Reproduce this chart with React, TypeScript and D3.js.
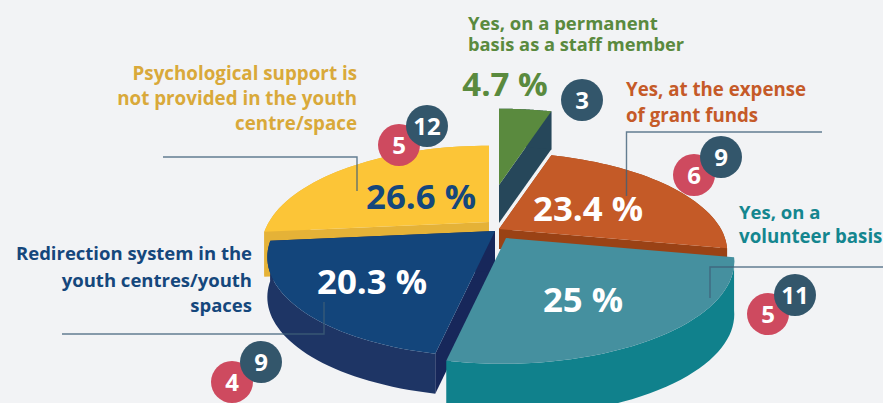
import React from "react";
import * as d3 from "d3";

const sliceNames = ["Staff", "Grant", "Volunteer", "Redirection", "Psychological"];
const sliceValues = [4.7, 23.4, 25, 20.3, 26.6];
const valueLabels = ["4.7 %", "23.4 %", "25 %", "20.3 %", "26.6 %"];
const topColors = ["#5A8A3E", "#C45A27", "#45909F", "#13457B", "#FCC537"];
const wallColors = ["#26475A", "#9A4215", "#10818C", "#1E3565", "#E5B237"];
const faceColors = ["#26475A", "#9A4215", "#10818C", "#17275A", "#E5B237"];
const apexX = [499, 499, 506, 495, 489];
const apexY = [185, 229, 238, 231, 222];
const depths = [38, 20, 53, 40, 45];
const paintOrder = [4, 0, 1, 3, 2];
const redCounts = [null, 6, 5, 4, 5];
const darkCounts = [3, 9, 11, 9, 12];

const W = 883, H = 403;
const RX_RIGHT = 222, RX_LEFT = 220, RY = 95, K = 0.245, SHEAR = 0.03;

const project = (t: number): [number, number] => {
  const s = Math.sin(t), c = -Math.cos(t);
  const d = 1 - K * c;
  const y = (RY * c) / d;
  const rx = s > 0 ? RX_RIGHT : RX_LEFT;
  return [(rx * s) / d - SHEAR * Math.max(y, 0), y];
};

const App = () => {
  const arcs = d3.pie<number>().sort(null).value((d) => d)(sliceValues);
  const line = d3.line();
  const sliceGeom = arcs.map((a, i) => {
    const pts: [number, number][] = d3
      .range(0, 41)
      .map((k) => {
        const t = a.startAngle + ((a.endAngle - a.startAngle) * k) / 40;
        const [x, y] = project(t);
        return [apexX[i] + x, apexY[i] + y];
      });
    return { pts, a };
  });
  const FONT = "'Open Sans', sans-serif";
  return (
    <svg
      width={W}
      height={H}
      viewBox={`0 0 ${W} ${H}`}
      style={{ position: "fixed", left: 0, top: 0, display: "block", background: "#F2F3F5" }}
      fontFamily={FONT}
      fontWeight={700}
    >
      {paintOrder.map((i) => {
        const { pts } = sliceGeom[i];
        const dp = depths[i];
        const apex: [number, number] = [apexX[i], apexY[i]];
        const drop = (p: [number, number]): [number, number] => [p[0], p[1] + dp];
        const wall = [...pts, ...pts.map(drop).reverse()];
        const start = pts[0];
        const end = pts[pts.length - 1];
        const faceA = [apex, start, drop(start), drop(apex)];
        const faceB = [apex, end, drop(end), drop(apex)];
        const top = [apex, ...pts];
        const isTeal = sliceNames[i] === "Volunteer";
        return (
          <g key={sliceNames[i]}>
            {!isTeal && <path d={(line(faceA) ?? "") + "Z"} fill={faceColors[i]} />}
            {!isTeal && <path d={(line(faceB) ?? "") + "Z"} fill={faceColors[i]} />}
            <path d={(line(wall) ?? "") + "Z"} fill={wallColors[i]} />
            <path d={(line(top) ?? "") + "Z"} fill={topColors[i]} />
          </g>
        );
      })}

      <g fill="none" stroke="#3F5F78" strokeOpacity={0.8} strokeWidth={1.4}>
        <path d="M163,157H357V191" />
        <path d="M822,132H626.5V196" />
        <path d="M883,267H710V298" />
        <path d="M62,334H324V302" />
      </g>

      <g fontSize={34.8} textAnchor="middle">
        <text x={505} y={96} fontSize={33} fill={topColors[0]}>{valueLabels[0]}</text>
        <text x={588} y={221} fill="#fff">{valueLabels[1]}</text>
        <text x={583} y={312} fill="#fff">{valueLabels[2]}</text>
        <text x={372} y={294} fill="#fff">{valueLabels[3]}</text>
        <text x={421} y={209} fill="#15477C">{valueLabels[4]}</text>
      </g>

      <g fontSize={18.5}>
        <g fill="#5A8A3E">
          <text x={468} y={30}>Yes, on a permanent</text>
          <text x={468} y={51} fontSize={18.3}>basis as a staff member</text>
        </g>
        <g fill="#C55A28">
          <text x={626} y={96} fontSize={18.7}>Yes, at the expense</text>
          <text x={626} y={122} fontSize={18.7}>of grant funds</text>
        </g>
        <g fill="#14868F">
          <text x={739} y={219}>Yes, on a</text>
          <text x={739} y={243} fontSize={18.7}>volunteer basis</text>
        </g>
        <g fill="#D9A93A" textAnchor="end" fontSize={18.8}>
          <text x={357} y={80}>Psychological support is</text>
          <text x={357} y={105}>not provided in the youth</text>
          <text x={357} y={130}>centre/space</text>
        </g>
        <g fill="#15477C" textAnchor="end" fontSize={18.5}>
          <text x={252} y={260}>Redirection system in the</text>
          <text x={252} y={287}>youth centres/youth</text>
          <text x={252} y={312}>spaces</text>
        </g>
      </g>

      {[
        { i: 0, rx: 0, ry: 0, dx: 582, dy: 100 },
        { i: 1, rx: 694, ry: 175, dx: 721, dy: 157 },
        { i: 2, rx: 768, ry: 314, dx: 795, dy: 295 },
        { i: 3, rx: 232, ry: 382, dx: 261, dy: 362 },
        { i: 4, rx: 399, ry: 145, dx: 427, dy: 126 },
      ].map(({ i, rx, ry, dx, dy }) => (
        <g key={i} fontSize={24} textAnchor="middle" fill="#fff">
          {redCounts[i] !== null && (
            <>
              <circle cx={rx} cy={ry} r={21} fill="#CE4A5F" />
              <text x={rx} y={ry + 8.5}>{redCounts[i]}</text>
            </>
          )}
          <circle cx={dx} cy={dy} r={21} fill="#33566B" />
          <text x={dx} y={dy + 8.5}>{darkCounts[i]}</text>
        </g>
      ))}
    </svg>
  );
};

export default App;
